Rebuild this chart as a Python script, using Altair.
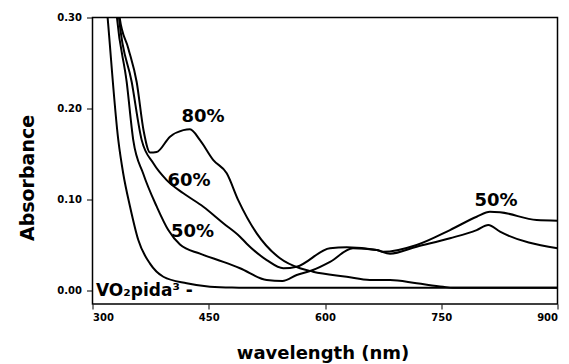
import altair as alt
import pandas as pd

# ---- data ----
base_x = [317.5, 319.6, 333.3, 339.7, 348.4, 359.1, 374.2, 391.4, 421.5, 451.6, 480, 520, 900]
base_y = [0.32, 0.299, 0.165, 0.128, 0.092, 0.055, 0.029, 0.0146, 0.0074, 0.0036, 0.0027, 0.0025, 0.0025]

p50_x = [329.5, 331.6, 344.1, 352.6, 365.5, 382.8, 397.8, 412.9, 438.7, 468.8, 490.3, 524.8, 545, 563.5,
         584.5, 606.5, 636.1, 666.7, 675, 718.3, 761.3, 795.7, 812.9, 825.8, 873.1, 900]
p50_y = [0.32, 0.2996, 0.229, 0.165, 0.128, 0.092, 0.066, 0.050, 0.040, 0.031, 0.024, 0.011, 0.010, 0.0165,
         0.022, 0.031, 0.046, 0.044, 0.042, 0.0496, 0.066, 0.0807, 0.0862, 0.0856, 0.077, 0.0763]

p60_x = [332.5, 334.2, 350.6, 363.5, 378.5, 395.7, 417.2, 443, 468.8, 490.3, 499, 524.8, 546.2, 563.5,
         606.5, 628, 666.7, 683.9, 718.3, 761.3, 795.7, 810.7, 825.8, 900]
p60_y = [0.32, 0.2996, 0.229, 0.165, 0.1395, 0.121, 0.1065, 0.0917, 0.0735, 0.0587, 0.051, 0.033, 0.024, 0.0257,
         0.046, 0.047, 0.044, 0.040, 0.0477, 0.057, 0.066, 0.0716, 0.0642, 0.0459]

p80_x = [333, 335, 346.2, 357, 366, 374.2, 382.8, 400, 417.2, 425.8, 438.7, 455.9, 473.2, 488,
         511.9, 541.9, 567.7, 584.5, 628, 658, 683.9, 718.3, 752.3, 765, 900]
p80_y = [0.32, 0.30, 0.266, 0.229, 0.175, 0.1514, 0.152, 0.1688, 0.176, 0.177, 0.165, 0.143, 0.1285, 0.099,
         0.0624, 0.0349, 0.0239, 0.0202, 0.0146, 0.011, 0.011, 0.0074, 0.0036, 0.0025, 0.0025]

label_text = ["80%", "60%", "50%", "50%"]
label_x = [442.6, 424.6, 429.0, 820.6]
label_y = [0.1905, 0.1195, 0.0644, 0.098]

species_text = ["VO\u2082pida\u00b3 -"]
species_x = [304.5]
species_y = [-0.0015]

x_ticks = [300, 450, 600, 750, 900]
y_ticks = [0.0, 0.1, 0.2, 0.3]

# ---- build tables ----
rows = []
for name, xs, ys in [("base", base_x, base_y), ("50", p50_x, p50_y),
                     ("60", p60_x, p60_y), ("80", p80_x, p80_y)]:
    for i, (a, b) in enumerate(zip(xs, ys)):
        rows.append({"series": name, "x": a, "y": b, "order": i})
df = pd.DataFrame(rows)
labels = pd.DataFrame({"t": label_text, "x": label_x, "y": label_y})
species = pd.DataFrame({"t": species_text, "x": species_x, "y": species_y})

xscale = alt.Scale(domain=[300, 900], nice=False, zero=False)
yscale = alt.Scale(domain=[-0.0154, 0.30], nice=False, zero=False)

lines = alt.Chart(df).mark_line(color="black", strokeWidth=2, interpolate="monotone", clip=True).encode(
    x=alt.X("x:Q", scale=xscale,
            axis=alt.Axis(values=x_ticks, title="wavelength (nm)", titleX=230, titleY=54,
                          titleBaseline="alphabetic", titleFontSize=18, tickSize=5, labelPadding=3)),
    y=alt.Y("y:Q", scale=yscale,
            axis=alt.Axis(values=y_ticks, format=".2f", title="Absorbance", titleX=-59.5, titleY=160,
                          titleBaseline="alphabetic", titleFontSize=19, tickSize=6, labelPadding=5)),
    detail="series:N",
    order="order:Q",
)

text = alt.Chart(labels).mark_text(font="DejaVu Sans", fontWeight="bold", fontSize=18,
                                   color="black", align="center", baseline="middle").encode(
    x=alt.X("x:Q", scale=xscale), y=alt.Y("y:Q", scale=yscale), text="t:N")

spec = alt.Chart(species).mark_text(font="DejaVu Sans", fontWeight="bold", fontSize=17,
                                    color="black", align="left", baseline="middle").encode(
    x=alt.X("x:Q", scale=xscale), y=alt.Y("y:Q", scale=yscale), text="t:N")

chart = alt.layer(lines, text, spec).properties(
    width=465, height=286.5,
    padding={"left": 84.5, "top": 9.5, "right": 3, "bottom": 60},
    autosize=alt.AutoSizeParams(type="none"),
    background="white",
).configure_view(stroke="black", strokeWidth=1.5).configure_axis(
    domain=False, grid=False, tickColor="black", tickWidth=1,
    labelFont="DejaVu Sans", labelFontWeight="bold", labelFontSize=10, labelColor="black",
    titleFont="DejaVu Sans", titleFontWeight="bold", titleColor="black",
)

chart.save("out.html", embed_options={"renderer": "svg", "actions": False})
